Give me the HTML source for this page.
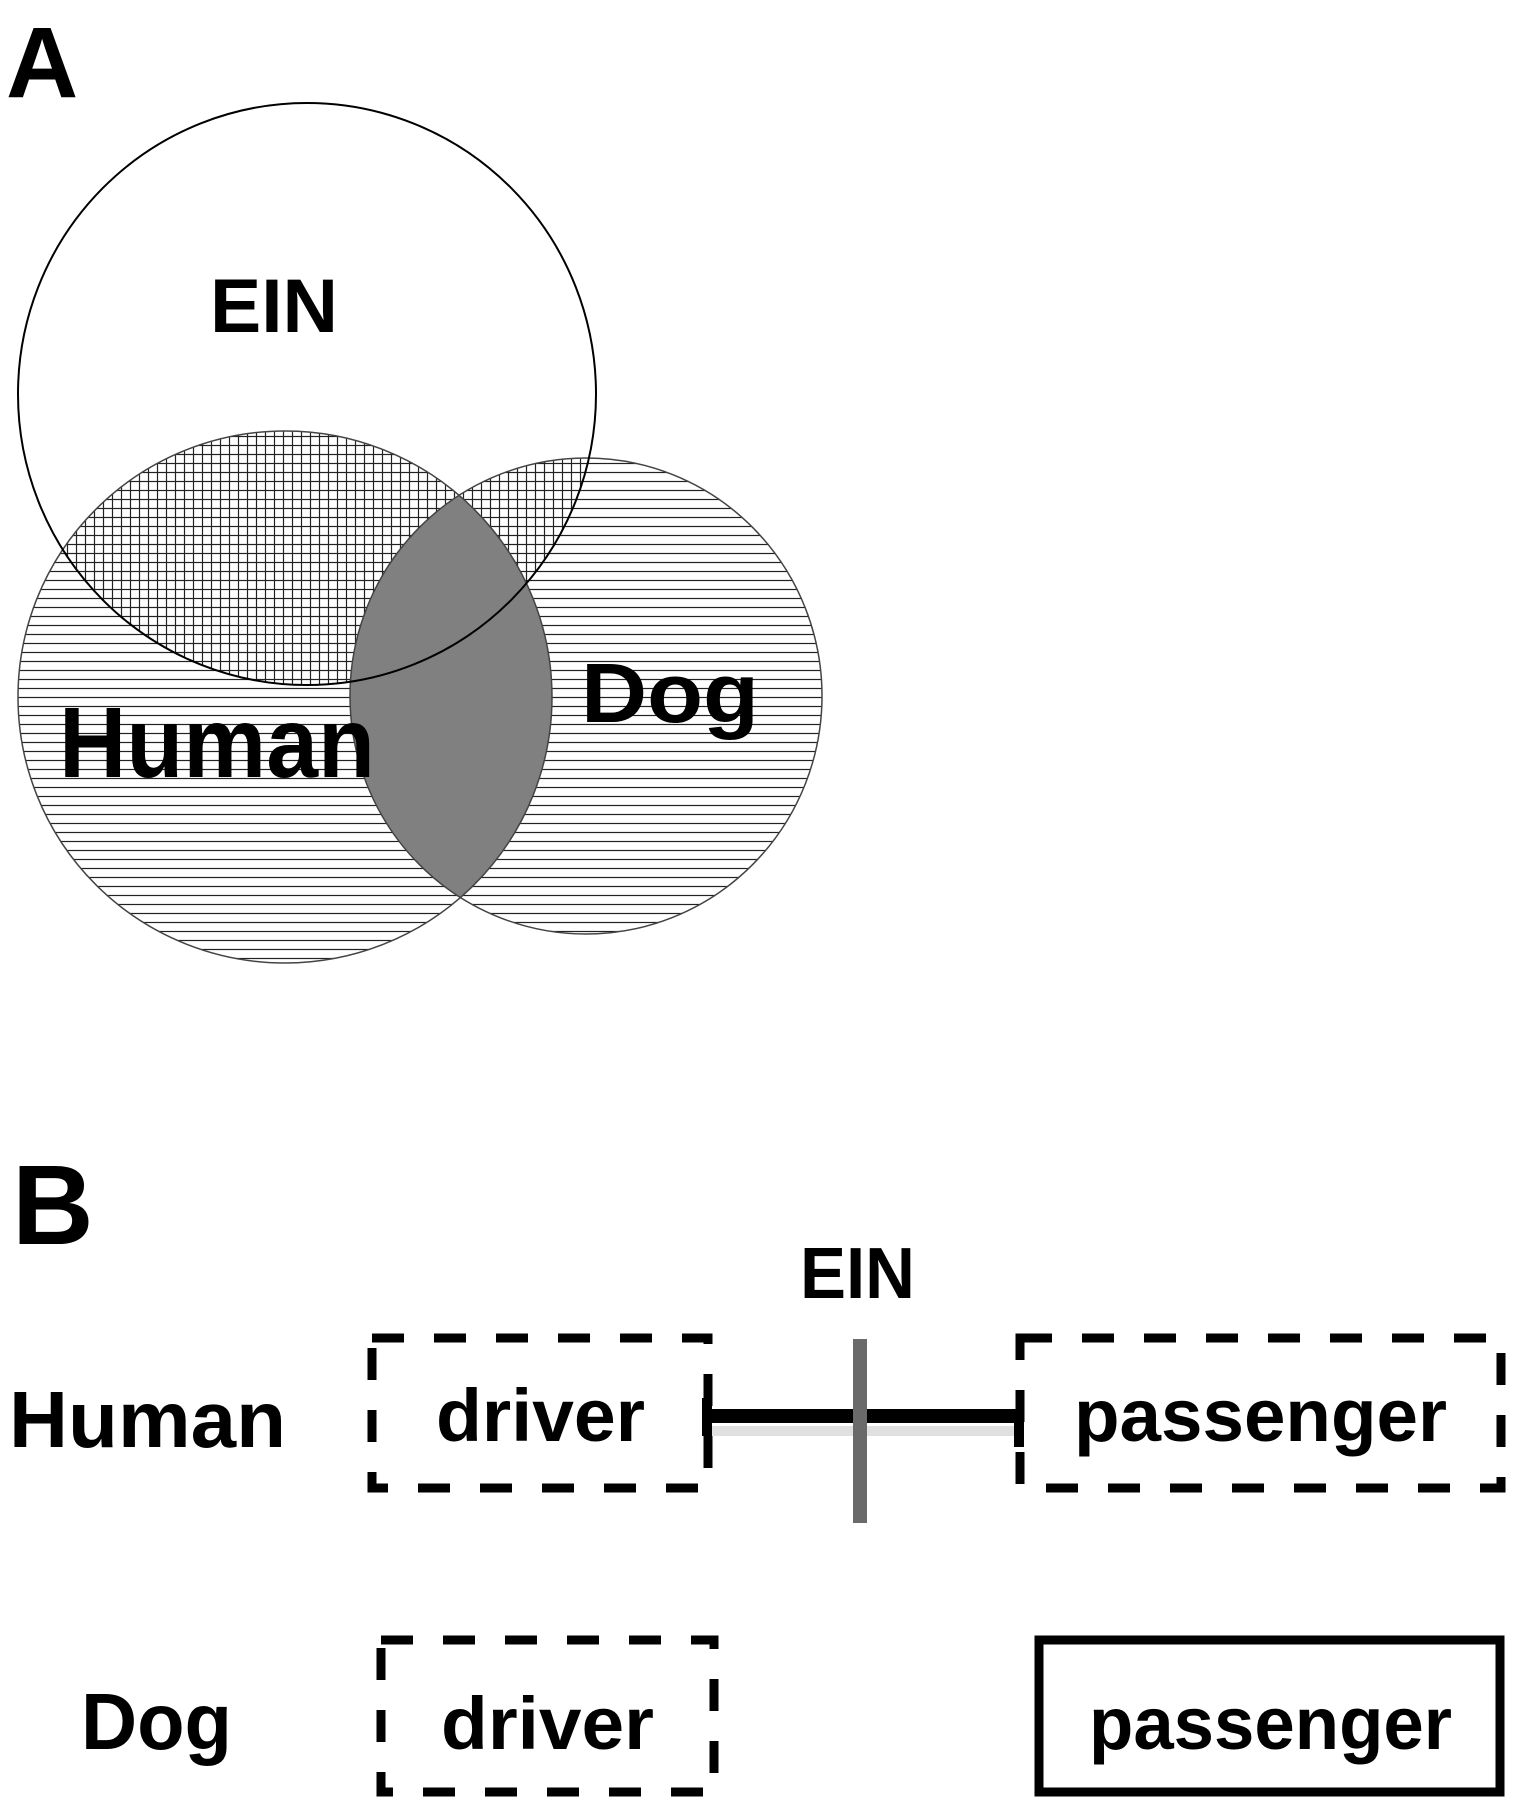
<!DOCTYPE html>
<html><head><meta charset="utf-8"><style>html,body{margin:0;padding:0;background:#fff}svg{display:block}</style></head>
<body>
<svg width="1513" height="1800" viewBox="0 0 1513 1800" xmlns="http://www.w3.org/2000/svg">
<defs>
<pattern id="hz" width="9" height="9" patternUnits="userSpaceOnUse"><rect width="9" height="9" fill="#fff"/><line x1="0" y1="4.5" x2="9" y2="4.5" stroke="#222" stroke-width="1.2"/></pattern>
<pattern id="cx" width="9" height="9" patternUnits="userSpaceOnUse"><rect width="9" height="9" fill="#fff"/><line x1="0" y1="4.5" x2="9" y2="4.5" stroke="#222" stroke-width="1.2"/><line x1="4.5" y1="0" x2="4.5" y2="9" stroke="#222" stroke-width="1.2"/></pattern>
<clipPath id="cEIN"><ellipse cx="307" cy="394" rx="289" ry="291"/></clipPath>
<clipPath id="cDog"><ellipse cx="586" cy="696" rx="236" ry="238"/></clipPath>
</defs>
<g font-family="Liberation Sans, Arial, sans-serif" font-weight="bold">
<text x="6" y="97" font-size="100">A</text>
<ellipse cx="285" cy="697" rx="267" ry="266" fill="url(#hz)"/>
<ellipse cx="586" cy="696" rx="236" ry="238" fill="url(#hz)"/>
<g clip-path="url(#cEIN)">
<ellipse cx="285" cy="697" rx="267" ry="266" fill="url(#cx)"/>
<ellipse cx="586" cy="696" rx="236" ry="238" fill="url(#cx)"/>
</g>
<ellipse cx="285" cy="697" rx="267" ry="266" fill="#808080" clip-path="url(#cDog)"/>
<ellipse cx="285" cy="697" rx="267" ry="266" fill="none" stroke="#444" stroke-width="1.5"/>
<ellipse cx="586" cy="696" rx="236" ry="238" fill="none" stroke="#444" stroke-width="1.5"/>
<ellipse cx="307" cy="394" rx="289" ry="291" fill="none" stroke="#000" stroke-width="2"/>
<text x="210" y="332" font-size="76" textLength="128" lengthAdjust="spacingAndGlyphs">EIN</text>
<text x="59" y="777" font-size="100" textLength="316" lengthAdjust="spacingAndGlyphs">Human</text>
<text x="581" y="722" font-size="84" textLength="178" lengthAdjust="spacingAndGlyphs">Dog</text>

<text x="12" y="1244" font-size="113">B</text>
<text x="800" y="1298" font-size="72" textLength="115" lengthAdjust="spacingAndGlyphs">EIN</text>
<text x="9" y="1447" font-size="80" textLength="277" lengthAdjust="spacingAndGlyphs">Human</text>
<text x="81" y="1749" font-size="80" textLength="151" lengthAdjust="spacingAndGlyphs">Dog</text>
<text x="436" y="1441" font-size="74" textLength="209" lengthAdjust="spacingAndGlyphs">driver</text>
<text x="1074" y="1441" font-size="74" textLength="373" lengthAdjust="spacingAndGlyphs">passenger</text>
<text x="441" y="1749" font-size="74" textLength="213" lengthAdjust="spacingAndGlyphs">driver</text>
<text x="1089" y="1749" font-size="74" textLength="363" lengthAdjust="spacingAndGlyphs">passenger</text>
</g>
<g fill="none" stroke="#000" stroke-width="9" stroke-dasharray="32 30">
<rect x="372" y="1338" width="336" height="150"/>
<rect x="1020" y="1338" width="481" height="150"/>
<rect x="381" y="1640" width="333" height="152"/>
</g>
<rect x="1039" y="1640" width="461" height="152" fill="none" stroke="#000" stroke-width="9"/>
<rect x="712" y="1426" width="305" height="10" fill="#000" opacity="0.12"/>
<rect x="708" y="1409" width="310" height="14" fill="#000"/>
<rect x="702" y="1398" width="10" height="38" fill="#000"/>
<rect x="1014" y="1409" width="10" height="38" fill="#000"/>
<rect x="853" y="1339" width="14" height="184" fill="#6a6a6a"/>
</svg>
</body></html>
